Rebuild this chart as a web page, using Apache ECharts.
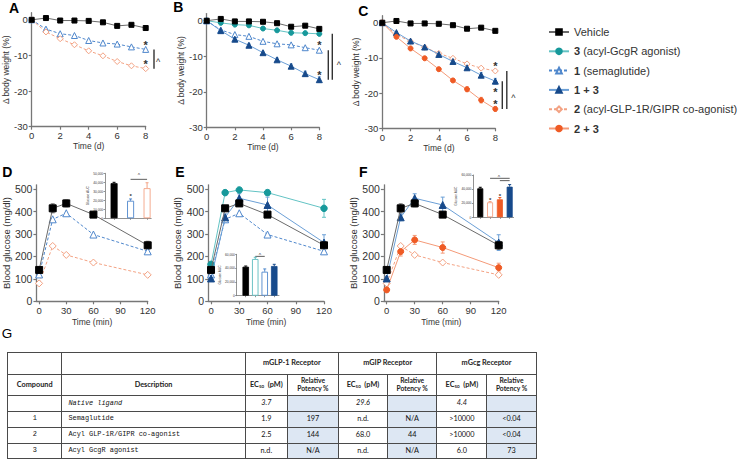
<!DOCTYPE html>
<html><head><meta charset="utf-8">
<script src="https://cdn.jsdelivr.net/npm/echarts@6/dist/echarts.min.js"></script>
<style>
html,body{margin:0;padding:0;background:#fff;}
#chart{position:absolute;left:0;top:0;width:740px;height:461px;}
#tblwrap{position:absolute;left:7px;top:352px;}
table{border-collapse:collapse;table-layout:fixed;}
td{border:1px solid #4a4a4a;padding:0;text-align:center;vertical-align:middle;font-family:Lato,'Open Sans',sans-serif;font-size:7.3px;color:#111;line-height:1.15;overflow:hidden;white-space:nowrap;}
td.h{font-weight:bold;color:#222;}
td.m{font-family:'Liberation Mono','DejaVu Sans Mono',monospace;font-size:6.9px;}
td.d{text-align:left;padding-left:6px;}
td.p{background:#dde7f3;}
td.i{font-style:italic;}
sub{font-size:4.5px;vertical-align:-1px;}
</style></head>
<body>
<div id="chart"></div>
<div id="tblwrap"><table id="tbl"></table></div>
<script>
// ---------- data ----------
const days = [0,1,2,3,4,5,6,7,8];
const bwVehicle = [0,0.5,-0.2,-0.2,-0.3,-0.7,-1.7,-1.4,-2.3];
const bwCpd3    = [0,-0.6,-1.1,-1.3,-2.2,-2.7,-3.4,-3.5,-3.7];
const bwCpd1    = [0,-2.6,-3.9,-4.4,-5.8,-6.5,-6.8,-7.6,-8.3];
const bwCpd1p3  = [0,-2.8,-5.2,-6.9,-9.0,-11.0,-12.8,-14.9,-16.6];
const bwCpd2    = [0,-3.4,-5.3,-7.0,-8.7,-10.1,-11.7,-12.9,-13.7];
const bwCpd2p3  = [0,-4.0,-7.3,-10.1,-13.2,-16.4,-18.9,-22.0,-24.5];
const bwSem1p3  = [0,0.3,0.4,0.4,0.4,0.5,0.6,0.7,0.8];
const bwSem2p3  = [0,0.3,0.4,0.4,0.5,0.5,0.7,0.8,0.7];

const minutes = [0,15,30,60,120];
const bgVehicle = [140,415,437,387,250];
const bgCpd1    = [120,366,393,298,223];
const bgCpd2    = [80,247,207,173,118];
const bgCpd3    = [165,485,497,485,415];
const bgCpd1p3  = [102,375,460,430,262];
const bgCpd2p3  = [51,222,274,240,150];
const bgSemVeh  = [10,20,15,10,18];
const bgSem3    = [10,10,8,10,40];
const bgSem1p3  = [8,15,20,35,35];
const bgSem2p3  = [8,20,20,25,20];

const aucD = [39000,19500,33500];  const aucSemD = [1000,2000,6000];
const aucE = [42000,53200,34800,43000]; const aucSemE = [1000,2500,4000,2500];
const aucF = [41100,21300,25500,43400]; const aucSemF = [1500,1000,2500,3000];

const bodyTicks = [-30,-20,-10,0];
const dayTicks = [0,2,4,6,8];
const bgTicks = [0,100,200,300,400,500];
const minTicks = [0,30,60,90,120];
const aucTicksD = [0,10000,20000,30000,40000,50000];
const aucTicks = [0,20000,40000,60000];

const tableHead1 = ['', '', 'mGLP-1 Receptor', 'mGIP Receptor', 'mGcg Receptor'];
const tableHead2 = ['Compound', 'Description', 'EC50', 'Relative Potency %', 'EC50', 'Relative Potency %', 'EC50', 'Relative Potency %'];
const tableRows = [
  ['', 'Native ligand', '3.7', '', '29.6', '', '4.4', ''],
  ['1', 'Semaglutide', '1.9', '197', 'n.d.', 'N/A', '>10000', '<0.04'],
  ['2', 'Acyl GLP-1R/GIPR co-agonist', '2.5', '144', '68.0', '44', '>10000', '<0.04'],
  ['3', 'Acyl GcgR agonist', 'n.d.', 'N/A', 'n.d.', 'N/A', '6.0', '73']
];

// ---------- styles ----------
const NAMES = {veh:'Vehicle', c3:'3 (acyl-GcgR agonist)', c1:'1 (semaglutide)', c13:'1 + 3', c2:'2 (acyl-GLP-1R/GIPR co-agonist)', c23:'2 + 3'};
const STY = {
  veh:{stroke:'#000', line:'#6b6b6b', fill:'#000', symbol:'rect', dash:'solid', size:[5,7], z:5},
  c3:{stroke:'#17999b', line:'#63c3c4', fill:'#17999b', symbol:'circle', dash:'solid', size:[5,6.5], z:3},
  c1:{stroke:'#4f87cc', line:'#4f87cc', fill:'#fff', symbol:'triangle', dash:[3,2], size:[6,7], z:3},
  c13:{stroke:'#174a8b', line:'#6b9fd6', fill:'#174a8b', symbol:'triangle', dash:'solid', size:[6,7], z:4},
  c2:{stroke:'#f3a283', line:'#f3a283', fill:'#fff', symbol:'diamond', dash:[3,2], size:[6,7], z:3},
  c23:{stroke:'#ef5b25', line:'#f49a78', fill:'#ef5b25', symbol:'circle', dash:'solid', size:[5,6], z:4}
};
const FONT = '"Liberation Sans", Arial, sans-serif';
const AX = '#777';

const grids = [
  {left:31.7, top:12.7, width:114, height:114},
  {left:206.7, top:13.6, width:112.6, height:113.7},
  {left:382.3, top:15.7, width:113, height:112.6},
  {left:32.9, top:184.8, width:114.8, height:116.5},
  {left:208.2, top:184.8, width:115.8, height:116.5},
  {left:383.9, top:184.8, width:114.8, height:116.5},
  {left:105, top:173.3, width:46.2, height:45},
  {left:236.7, top:254.3, width:42.3, height:41.4},
  {left:473.3, top:175, width:40.3, height:42.3}
];

function mkAxis(gi, min, max, ticks, name, nameGap, lblSize, nameSize, opts) {
  opts = opts || {};
  return {
    type:'value', gridIndex:gi, min:min, max:max,
    splitLine:{show:false},
    axisLine:{onZero:false, lineStyle:{color:AX, width:opts.lw || 1.3}},
    axisTick:{customValues:ticks, length:opts.tl || 3, lineStyle:{color:AX, width:opts.lw || 1.2}},
    axisLabel:{show: opts.noLabel ? false : true, customValues:ticks, color:'#333', fontSize:lblSize, fontFamily:FONT, margin:opts.margin || 4},
    name:name, nameLocation:'middle', nameGap:nameGap,
    nameTextStyle:{color:'#333', fontSize:nameSize, fontFamily:FONT}
  };
}

const xAxes = [], yAxes = [];
for (let g = 0; g < 3; g++) {
  xAxes.push(mkAxis(g, 0, 8, dayTicks, 'Time (d)', 15, 9.5, 8.5));
  yAxes.push(mkAxis(g, -30, 2, bodyTicks, 'Δ body weight (%)', 20, 9.5, 8.5));
}
for (let g = 3; g < 6; g++) {
  xAxes.push(mkAxis(g, -3, 120, minTicks, 'Time (min)', 16, 9.5, 8.5));
  yAxes.push(mkAxis(g, 0, 520, bgTicks, 'Blood glucose (mg/dl)', 19, 10.5, 9.5));
}
const insetX = [[0.45,3.25,[1,2,3]],[0.05,4.5,[1,2,3,4]],[0.29,4.4,[1,2,3,4]]];
const insetY = [[50000, aucTicksD],[60000, aucTicks],[60000, aucTicks]];
for (let k = 0; k < 3; k++) {
  const g = 6 + k;
  xAxes.push(mkAxis(g, insetX[k][0], insetX[k][1], insetX[k][2], '', 0, 3, 3, {noLabel:true, lw:0.8, tl:1.5}));
  yAxes.push(mkAxis(g, 0, insetY[k][0], insetY[k][1], 'Glucose AUC', 12, 3.2, 3.2, {lw:0.8, tl:1.5, margin:2}));
}

const series = [];
function addLine(key, gi, xs, ys, big) {
  const s = STY[key];
  series.push({
    type:'line', name:NAMES[key], xAxisIndex:gi, yAxisIndex:gi,
    data: xs.map((x,i) => [x, ys[i]]),
    symbol:s.symbol, symbolSize: s.size[big ? 1 : 0], showSymbol:true, clip:false,
    itemStyle:{color:s.fill, borderColor:s.stroke, borderWidth:1},
    lineStyle:{color:s.line, width:1, type:s.dash},
    emphasis:{disabled:true}, z:s.z
  });
}
function addErr(gi, xs, ys, sems, color, cap, upperOnly) {
  series.push({
    type:'custom', xAxisIndex:gi, yAxisIndex:gi, silent:true, z:2, clip:false,
    encode:{x:0, y:[1,2]},
    data: xs.map((x,i) => [x, upperOnly ? ys[i] : ys[i]-sems[i], ys[i]+sems[i]]).filter(d => d[2] > d[1]),
    renderItem: function(p, api) {
      const a = api.coord([api.value(0), api.value(1)]);
      const b = api.coord([api.value(0), api.value(2)]);
      const st = {stroke:color, lineWidth:1};
      const ch = [
        {type:'line', shape:{x1:a[0], y1:a[1], x2:b[0], y2:b[1]}, style:st},
        {type:'line', shape:{x1:b[0]-cap, y1:b[1], x2:b[0]+cap, y2:b[1]}, style:st}
      ];
      if (!upperOnly) ch.push({type:'line', shape:{x1:a[0]-cap, y1:a[1], x2:a[0]+cap, y2:a[1]}, style:st});
      return {type:'group', children:ch};
    }
  });
}

// A
addLine('veh',0,days,bwVehicle); addLine('c1',0,days,bwCpd1); addLine('c2',0,days,bwCpd2);
// B
addErr(1,days,bwCpd1p3,bwSem1p3,STY.c13.line,1.5);
addLine('veh',1,days,bwVehicle); addLine('c3',1,days,bwCpd3); addLine('c1',1,days,bwCpd1); addLine('c13',1,days,bwCpd1p3);
// C
addErr(2,days,bwCpd1p3,bwSem1p3,STY.c13.line,1.5);
addErr(2,days,bwCpd2p3,bwSem2p3,STY.c23.line,1.5);
addLine('veh',2,days,bwVehicle); addLine('c13',2,days,bwCpd1p3); addLine('c2',2,days,bwCpd2); addLine('c23',2,days,bwCpd2p3);
// D
addErr(3,minutes,bgVehicle,bgSemVeh,'#666',2);
addLine('c2',3,minutes,bgCpd2,1); addLine('c1',3,minutes,bgCpd1,1); addLine('veh',3,minutes,bgVehicle,1);
// E
addErr(4,minutes,bgCpd3,bgSem3,STY.c3.line,2);
addErr(4,minutes,bgCpd1p3,bgSem1p3,STY.c13.line,2);
addLine('c1',4,minutes,bgCpd1,1); addLine('veh',4,minutes,bgVehicle,1); addLine('c13',4,minutes,bgCpd1p3,1); addLine('c3',4,minutes,bgCpd3,1);
// F
addErr(5,minutes,bgCpd1p3,bgSem1p3,STY.c13.line,2);
addErr(5,minutes,bgCpd2p3,bgSem2p3,STY.c23.line,2);
addErr(5,minutes,bgVehicle,bgSemVeh,'#666',2);
addLine('c2',5,minutes,bgCpd2,1); addLine('c23',5,minutes,bgCpd2p3,1); addLine('veh',5,minutes,bgVehicle,1); addLine('c13',5,minutes,bgCpd1p3,1);

// insets
const barStyles = {
  veh:{color:'#000', borderColor:'#000', borderWidth:0.8},
  c1o:{color:'#fff', borderColor:STY.c1.stroke, borderWidth:0.9},
  c2o:{color:'#fff', borderColor:STY.c2.stroke, borderWidth:0.9},
  c3o:{color:'#fff', borderColor:'#5dbcbf', borderWidth:0.9},
  c13:{color:STY.c13.fill, borderColor:STY.c13.fill, borderWidth:0.8},
  c23:{color:STY.c23.fill, borderColor:STY.c23.fill, borderWidth:0.8}
};
const insetKeys = [['veh','c1o','c2o'],['veh','c3o','c1o','c13'],['veh','c2o','c23','c13']];
const insetVals = [aucD, aucE, aucF];
const insetSems = [aucSemD, aucSemE, aucSemF];
const insetBarW = [7, 6.5, 6];
for (let k = 0; k < 3; k++) {
  const g = 6 + k;
  const xs = insetVals[k].map((v,i) => i+1);
  insetVals[k].forEach((v,i) => {
    addErr(g, [xs[i]], [v], [insetSems[k][i]], barStyles[insetKeys[k][i]].borderColor, 1.5, true);
  });
  series.push({
    type:'bar', xAxisIndex:g, yAxisIndex:g, barWidth:insetBarW[k], z:3, silent:true,
    data: insetVals[k].map((v,i) => ({value:[xs[i], v], itemStyle:barStyles[insetKeys[k][i]]}))
  });
}

const chart = echarts.init(document.getElementById('chart'), null, {renderer:'svg'});
chart.setOption({
  animation:false,
  grid:grids,
  xAxis:xAxes, yAxis:yAxes,
  series:series,
  legend:{
    left:543, top:21, orient:'vertical', itemWidth:20, itemHeight:7, itemGap:7.3,
    selectedMode:false,
    data:[NAMES.veh, NAMES.c3, NAMES.c1, NAMES.c13, NAMES.c2, NAMES.c23],
    formatter: function(name) {
      const m = name.match(/^(\d \+ \d|\d)(.*)$/);
      if (!m) return '{n|' + name + '}';
      return '{b|' + m[1] + '}' + (m[2] ? '{n|' + m[2] + '}' : '');
    },
    textStyle:{fontSize:11, color:'#333', fontFamily:FONT, lineHeight:12,
      rich:{b:{fontWeight:'bold', fontSize:11, color:'#333', fontFamily:FONT, lineHeight:12},
            n:{fontSize:11, color:'#333', fontFamily:FONT, lineHeight:12}}}
  }
});

// ---------- annotations ----------
function P(g, x, y) { return chart.convertToPixel({gridIndex:g}, [x, y]); }
const gr = [];
function txt(x, y, t, size, weight, color, align) {
  gr.push({type:'text', x:x, y:y, silent:true, style:{text:t, fontSize:size, fontWeight:weight||'normal', fontFamily:FONT, fill:color||'#222', align:align||'center', verticalAlign:'middle'}});
}
function star(g, x, y, size) { const p = P(g,x,y); txt(p[0], p[1] + size*0.25, '*', size, 'bold', '#333'); }
function vbar(g, x, y1, y2, dx) {
  const a = P(g,x,y1), b = P(g,x,y2);
  gr.push({type:'line', silent:true, shape:{x1:a[0]+dx, y1:a[1], x2:b[0]+dx, y2:b[1]}, style:{stroke:'#333', lineWidth:1.4}});
}
function hbar(g, x1, x2, y, lw) {
  const a = P(g,x1,y), b = P(g,x2,y);
  gr.push({type:'line', silent:true, shape:{x1:a[0], y1:a[1], x2:b[0], y2:b[1]}, style:{stroke:'#333', lineWidth:lw||0.8}});
}
function caret(g, x, y, dx, size) { const p = P(g,x,y); txt(p[0]+dx, p[1]+size*0.2, '^', size, 'normal', '#333'); }

// A
star(0,8,-6.2,11); star(0,8,-11.5,11);
vbar(0,8,bwCpd1[8],bwCpd2[8],8.3); caret(0,8,-11.3,12.5,9);
// B
star(1,8,-6.1,11); star(1,8,-14.4,11);
vbar(1,8,bwCpd1[8],bwCpd1p3[8],9); vbar(1,8,bwCpd3[8],bwCpd1p3[8],13); caret(1,8,-12,19.5,9);
// C
star(2,8,-11.5,11); star(2,8,-18.8,11); star(2,8,-22.2,11);
vbar(2,8,bwCpd1p3[8],bwCpd2p3[8],7); vbar(2,8,bwCpd2[8],bwCpd2p3[8],11.5); caret(2,8,-21,18,9);
// insets
star(6,2,26700,6); hbar(6,2,3,43300); caret(6,2.5,49000,0,5);
hbar(7,2,3,57000); caret(7,2.5,60500,0,5);
star(8,2,27000,6); star(8,3,32000,6); hbar(8,2,4,55300); hbar(8,3,4,52000); caret(8,2.9,59000,0,5);

// panel letters
[['A',14,8],['B',178.3,7.3],['C',363.3,10.7],['D',7.3,171.7],['E',180,171.7],['F',363.3,171.7]].forEach(l => txt(l[1], l[2], l[0], 14, 'bold', '#000'));
txt(7, 333, 'G', 13.5, 'normal', '#000');

chart.setOption({graphic:gr});

// ---------- table ----------
const colW = [54.4,183.3,42.3,51,49,49.4,50,49.3];
const rowH = [21.6,21.7,15.7,15.6,16,15.7];
const tbl = document.getElementById('tbl');
const cg = document.createElement('colgroup');
colW.forEach(w => { const c = document.createElement('col'); c.style.width = w + 'px'; cg.appendChild(c); });
tbl.appendChild(cg);
function row(h) { const tr = document.createElement('tr'); tr.style.height = h + 'px'; tbl.appendChild(tr); return tr; }
function cell(tr, text, cls, span) {
  const td = document.createElement('td');
  if (cls) td.className = cls;
  if (span) td.colSpan = span;
  if (text === 'EC50') { td.appendChild(document.createTextNode('EC')); const s = document.createElement('sub'); s.textContent = '50'; td.appendChild(s); td.appendChild(document.createTextNode('  (pM)')); td.style.whiteSpace = 'pre'; }
  else if (text.indexOf('Relative') === 0) { td.appendChild(document.createTextNode('Relative')); td.appendChild(document.createElement('br')); td.appendChild(document.createTextNode('Potency %')); td.style.fontSize = '6.7px'; }
  else td.textContent = text;
  tr.appendChild(td); return td;
}
let tr = row(rowH[0]);
tableHead1.forEach((t,i) => cell(tr, t, 'h', i >= 2 ? 2 : 0));
tr = row(rowH[1]);
tableHead2.forEach(t => cell(tr, t, 'h'));
tableRows.forEach((r, ri) => {
  const tr2 = row(rowH[ri+2]);
  r.forEach((t, ci) => {
    let cls = '';
    if (ci === 0) cls = 'm';
    else if (ci === 1) cls = 'm d' + (ri === 0 ? ' i' : '');
    else cls = (ci % 2 === 1 ? 'p' : '') + (ri === 0 ? ' i' : '');
    cell(tr2, t, cls.trim());
  });
});
</script>
</body></html>
